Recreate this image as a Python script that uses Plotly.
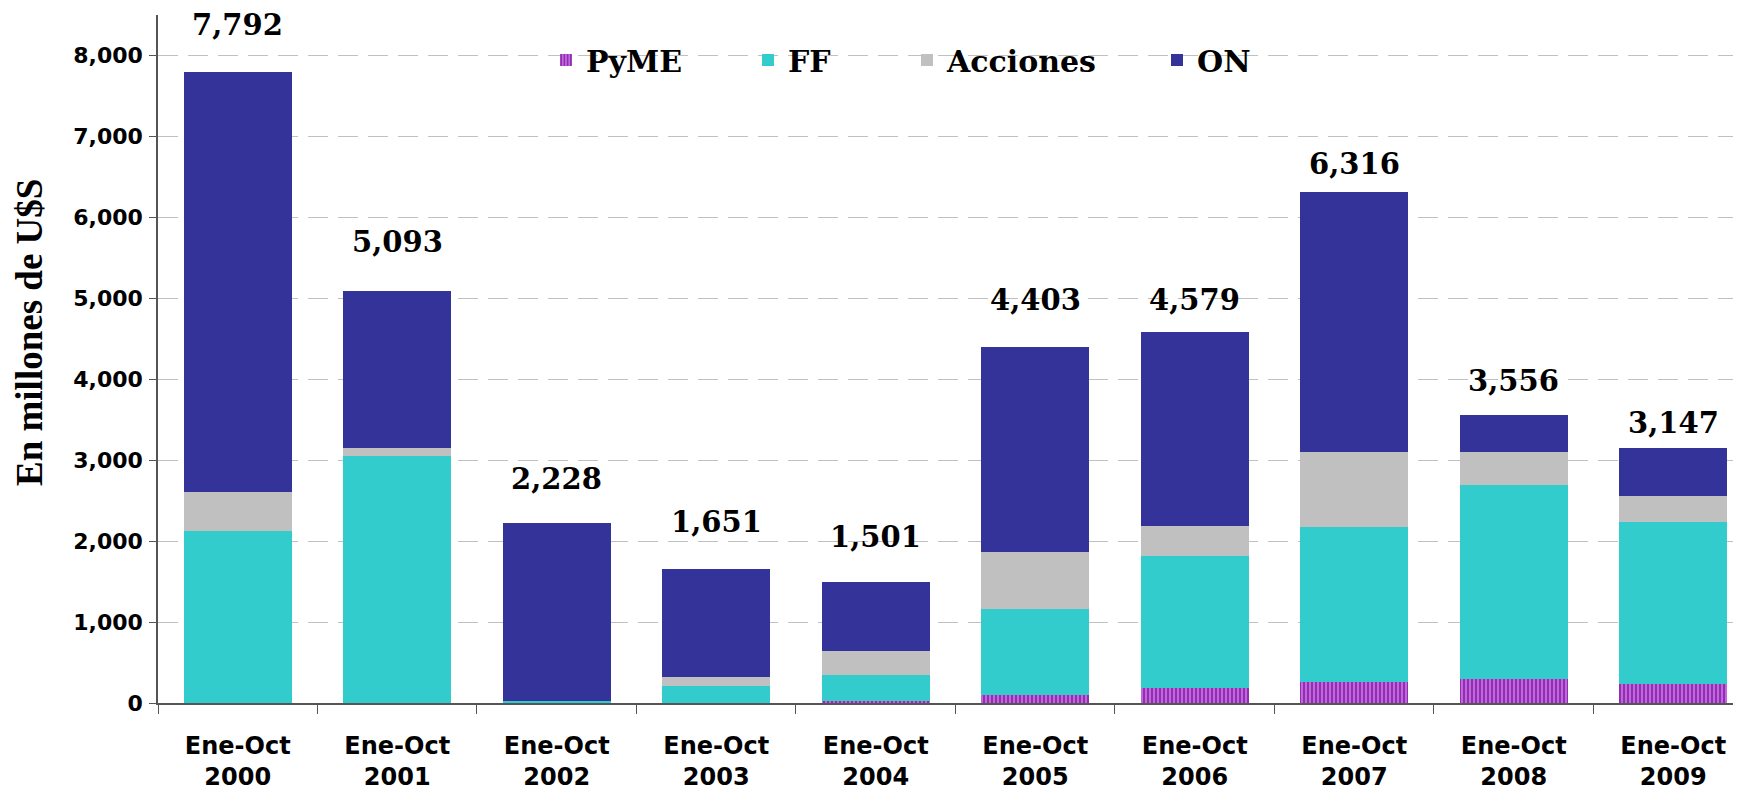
import plotly.graph_objects as go

# ---- data (millones de U$S) ----
categories = ["Ene-Oct<br>2000", "Ene-Oct<br>2001", "Ene-Oct<br>2002", "Ene-Oct<br>2003",
              "Ene-Oct<br>2004", "Ene-Oct<br>2005", "Ene-Oct<br>2006", "Ene-Oct<br>2007",
              "Ene-Oct<br>2008", "Ene-Oct<br>2009"]
pyme = [0, 0, 0, 3, 22, 95, 189, 263, 300, 240]
ff = [2127, 3053, 25, 211, 327, 1071, 1622, 1914, 2395, 1998]
acciones = [482, 103, 0, 111, 297, 700, 370, 925, 407, 321]
on = [5183, 1937, 2203, 1326, 855, 2537, 2398, 3214, 454, 588]
totals = [7792, 5093, 2228, 1651, 1501, 4403, 4579, 6316, 3556, 3147]
y_ticks = [0, 1000, 2000, 3000, 4000, 5000, 6000, 7000, 8000]

# style: vertical pixel offset of each total label above its bar
label_offsets_px = [47, 49, 44, 47, 45, 47, 32, 28, 34, 25]

# The page body adds an 8px margin, so the figure is drawn 8px smaller and
# all screen positions below are converted to figure positions.
OFF = 8
SW, SH = 1741, 793                 # screen size
W, H = SW - OFF, SH - OFF          # figure size
PLOT_L, PLOT_T, PLOT_B = 158, 15, 703   # plot area on screen
ml, mr, mt = PLOT_L - OFF, 0, PLOT_T - OFF
mb = H - (PLOT_B - OFF)
pw, ph = W - ml - mr, H - mt - mb

SERIF = "DejaVu Serif, Liberation Serif, serif"
TSERIF = "Liberation Serif, Times New Roman, serif"
SANS = "DejaVu Sans, Liberation Sans, Arial, sans-serif"


def px_x(sx):
    return (sx - PLOT_L) / pw


def px_y(sy):
    return (PLOT_B - sy) / ph


fig = go.Figure()
fig.add_trace(go.Bar(
    x=categories, y=pyme, name="PyME", legend="legend",
    marker=dict(color="#c266e0", line=dict(width=0),
                pattern=dict(shape="|", fgcolor="#8a2aa8", bgcolor="#c266e0",
                             size=4, solidity=0.45, fillmode="replace"))))
fig.add_trace(go.Bar(x=categories, y=ff, name="FF", legend="legend2",
                     marker=dict(color="#33cccc", line=dict(width=0))))
fig.add_trace(go.Bar(x=categories, y=acciones, name="Acciones", legend="legend3",
                     marker=dict(color="#c0c0c0", line=dict(width=0))))
fig.add_trace(go.Bar(x=categories, y=on, name="ON", legend="legend4",
                     marker=dict(color="#333399", line=dict(width=0))))

annotations = []
for c, t, off in zip(categories, totals, label_offsets_px):
    annotations.append(dict(
        x=c, y=t, xref="x", yref="y", text=f"{t:,}", showarrow=False,
        yanchor="middle", yshift=off,
        font=dict(family=SERIF, size=29, color="black", weight="bold")))
annotations.append(dict(
    x=px_x(29), y=px_y(333), xref="paper", yref="paper",
    xanchor="center", yanchor="middle",
    text="En millones de U$S", textangle=-90, showarrow=False,
    font=dict(family=TSERIF, size=37, color="black", weight="bold")))


def leg(text_left_px):
    return dict(
        x=px_x(text_left_px - 40), xref="paper", xanchor="left",
        y=px_y(60), yref="paper", yanchor="middle",
        orientation="h", bgcolor="rgba(0,0,0,0)", borderwidth=0,
        font=dict(family=SERIF, size=30, color="black", weight="bold"),
        itemwidth=30, itemclick=False, itemdoubleclick=False)


fig.update_layout(
    width=W, height=H,
    margin=dict(l=ml, r=mr, t=mt, b=mb, pad=0, autoexpand=False),
    paper_bgcolor="white", plot_bgcolor="white",
    barmode="stack", bargap=0.325,
    showlegend=True,
    legend=leg(586), legend2=leg(788), legend3=leg(947), legend4=leg(1197),
    annotations=annotations,
    xaxis=dict(
        type="category", range=[-0.5, 9.425], automargin=False,
        showline=True, linecolor="#555555", linewidth=1.5,
        ticks="outside", tickson="boundaries", ticklen=9, tickcolor="#555555", tickwidth=1.2,
        showgrid=False, ticklabelstandoff=20,
        tickfont=dict(family=SANS, size=24, color="black", weight="bold")),
    yaxis=dict(
        range=[0, 8500], tickvals=y_ticks, tickformat=",d", automargin=False,
        showline=True, linecolor="#555555", linewidth=1.5,
        ticks="outside", ticklen=7, tickcolor="#555555", tickwidth=1.2,
        showgrid=True, gridcolor="#c0c0c0", gridwidth=1.2, griddash="20px,10px",
        zeroline=False, ticklabelstandoff=2,
        tickfont=dict(family=SANS, size=22, color="black", weight="bold")),
)

fig.write_html("out.html")
